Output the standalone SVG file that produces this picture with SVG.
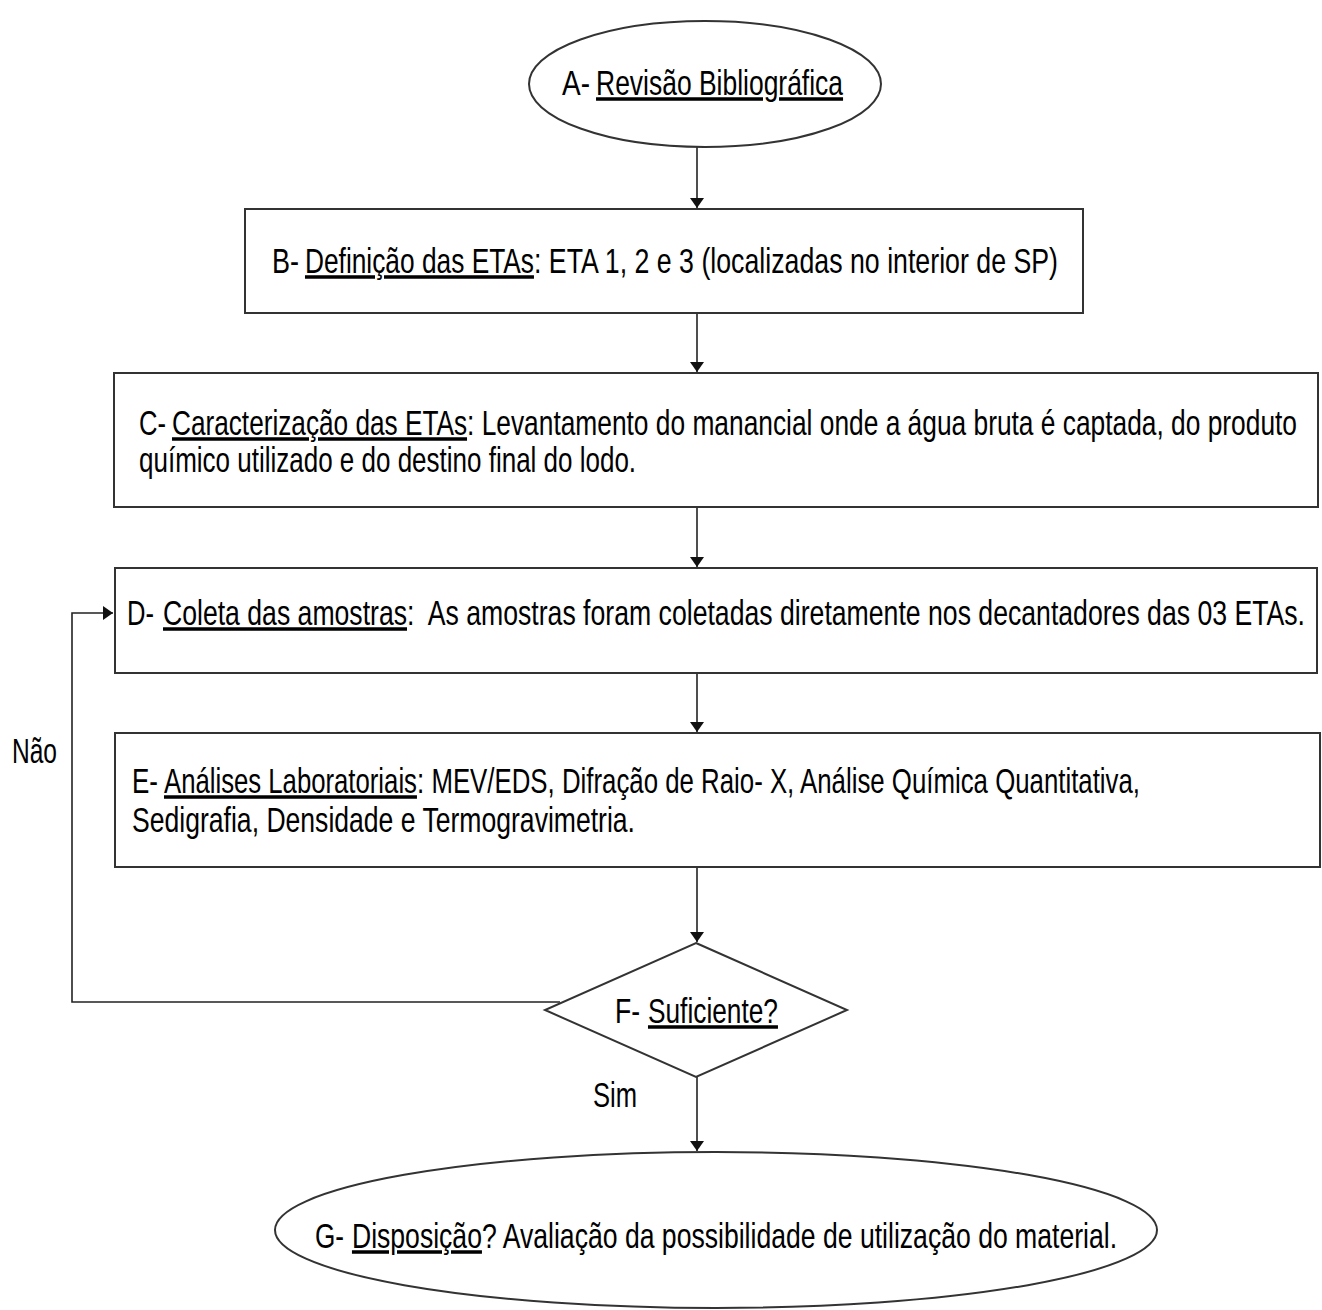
<svg xmlns="http://www.w3.org/2000/svg" width="1322" height="1310" viewBox="0 0 1322 1310">
<style>
.shape{fill:#fff;stroke:#333;stroke-width:2}
.conn{fill:none;stroke:#222;stroke-width:1.6}
.t{font-family:"Liberation Sans",Arial,sans-serif;font-size:35px;fill:#000}
.u{text-decoration:underline}
</style>
<defs>
<marker id="ah" viewBox="0 0 10 14" refX="10" refY="7" markerWidth="10" markerHeight="14" markerUnits="userSpaceOnUse" orient="auto">
<path d="M0,0 L10,7 L0,14 Z" fill="#111"/>
</marker>
</defs>
<rect width="1322" height="1310" fill="#fff"/>
<g id="connectors">
<line class="conn" x1="697" y1="147" x2="697" y2="208" marker-end="url(#ah)"/>
<line class="conn" x1="697" y1="313" x2="697" y2="372" marker-end="url(#ah)"/>
<line class="conn" x1="697" y1="507" x2="697" y2="567" marker-end="url(#ah)"/>
<line class="conn" x1="697" y1="673" x2="697" y2="732" marker-end="url(#ah)"/>
<line class="conn" x1="697" y1="867" x2="697" y2="942" marker-end="url(#ah)"/>
<line class="conn" x1="697" y1="1077" x2="697" y2="1151" marker-end="url(#ah)"/>
<polyline class="conn" points="560,1002 72,1002 72,613 113,613" marker-end="url(#ah)"/>
<g transform="scale(0.754,1)">
<text class="t" x="15.9" y="763" textLength="59.7" lengthAdjust="spacingAndGlyphs">Não</text>
<text class="t" x="786.5" y="1107" textLength="58.4" lengthAdjust="spacingAndGlyphs">Sim</text>
</g>
</g>
<g id="nodeA">
<ellipse class="shape" cx="705" cy="84" rx="176" ry="63"/>
<g transform="scale(0.754,1)">
<text class="t" x="745.4" y="95" textLength="37.1" lengthAdjust="spacingAndGlyphs">A-</text>
<text class="t u" x="790.5" y="95" textLength="327.6" lengthAdjust="spacingAndGlyphs">Revisão Bibliográfica</text>
</g>
</g>
<g id="nodeB">
<rect class="shape" x="245" y="209" width="838" height="104"/>
<g transform="scale(0.754,1)">
<text class="t" x="360.8" y="273" textLength="35.8" lengthAdjust="spacingAndGlyphs">B-</text>
<text class="t u" x="404.5" y="273" textLength="303.7" lengthAdjust="spacingAndGlyphs">Definição das ETAs</text>
<text class="t" x="708.2" y="273" textLength="695" lengthAdjust="spacingAndGlyphs">: ETA 1, 2 e 3 (localizadas no interior de SP)</text>
</g>
</g>
<g id="nodeC">
<rect class="shape" x="114" y="373" width="1204" height="134"/>
<g transform="scale(0.754,1)">
<text class="t" x="184.4" y="435" textLength="35.8" lengthAdjust="spacingAndGlyphs">C-</text>
<text class="t u" x="228.1" y="435" textLength="391.3" lengthAdjust="spacingAndGlyphs">Caracterização das ETAs</text>
<text class="t" x="619.4" y="435" textLength="1100.8" lengthAdjust="spacingAndGlyphs">: Levantamento do manancial onde a água bruta é captada, do produto</text>
<text class="t" x="184.4" y="472" textLength="659.2" lengthAdjust="spacingAndGlyphs">químico utilizado e do destino final do lodo.</text>
</g>
</g>
<g id="nodeD">
<rect class="shape" x="115" y="568" width="1202" height="105"/>
<g transform="scale(0.754,1)">
<text class="t" x="168.4" y="625" textLength="35.8" lengthAdjust="spacingAndGlyphs">D-</text>
<text class="t u" x="216.2" y="625" textLength="323.6" lengthAdjust="spacingAndGlyphs">Coleta das amostras</text>
<text class="t" x="539.8" y="625" textLength="1191" lengthAdjust="spacingAndGlyphs" xml:space="preserve">:  As amostras foram coletadas diretamente nos decantadores das 03 ETAs.</text>
</g>
</g>
<g id="nodeE">
<rect class="shape" x="115" y="733" width="1205" height="134"/>
<g transform="scale(0.754,1)">
<text class="t" x="175.1" y="793" textLength="34.5" lengthAdjust="spacingAndGlyphs">E-</text>
<text class="t u" x="217.5" y="793" textLength="335.5" lengthAdjust="spacingAndGlyphs">Análises Laboratoriais</text>
<text class="t" x="553.1" y="793" textLength="958.9" lengthAdjust="spacingAndGlyphs">: MEV/EDS, Difração de Raio- X, Análise Química Quantitativa,</text>
<text class="t" x="175.1" y="832" textLength="667.1" lengthAdjust="spacingAndGlyphs">Sedigrafia, Densidade e Termogravimetria.</text>
</g>
</g>
<g id="nodeF">
<polygon class="shape" points="696,943 847,1010 696,1077 545,1010"/>
<g transform="scale(0.754,1)">
<text class="t" x="815.6" y="1023" textLength="33.2" lengthAdjust="spacingAndGlyphs">F-</text>
<text class="t u" x="859.4" y="1023" textLength="172.4" lengthAdjust="spacingAndGlyphs">Suficiente?</text>
</g>
</g>
<g id="nodeG">
<ellipse class="shape" cx="716" cy="1230" rx="441" ry="78"/>
<g transform="scale(0.754,1)">
<text class="t" x="417.8" y="1248" textLength="38.5" lengthAdjust="spacingAndGlyphs">G-</text>
<text class="t u" x="466.8" y="1248" textLength="172.4" lengthAdjust="spacingAndGlyphs">Disposição</text>
<text class="t" x="639.3" y="1248" textLength="842.2" lengthAdjust="spacingAndGlyphs">? Avaliação da possibilidade de utilização do material.</text>
</g>
</g>
</svg>
